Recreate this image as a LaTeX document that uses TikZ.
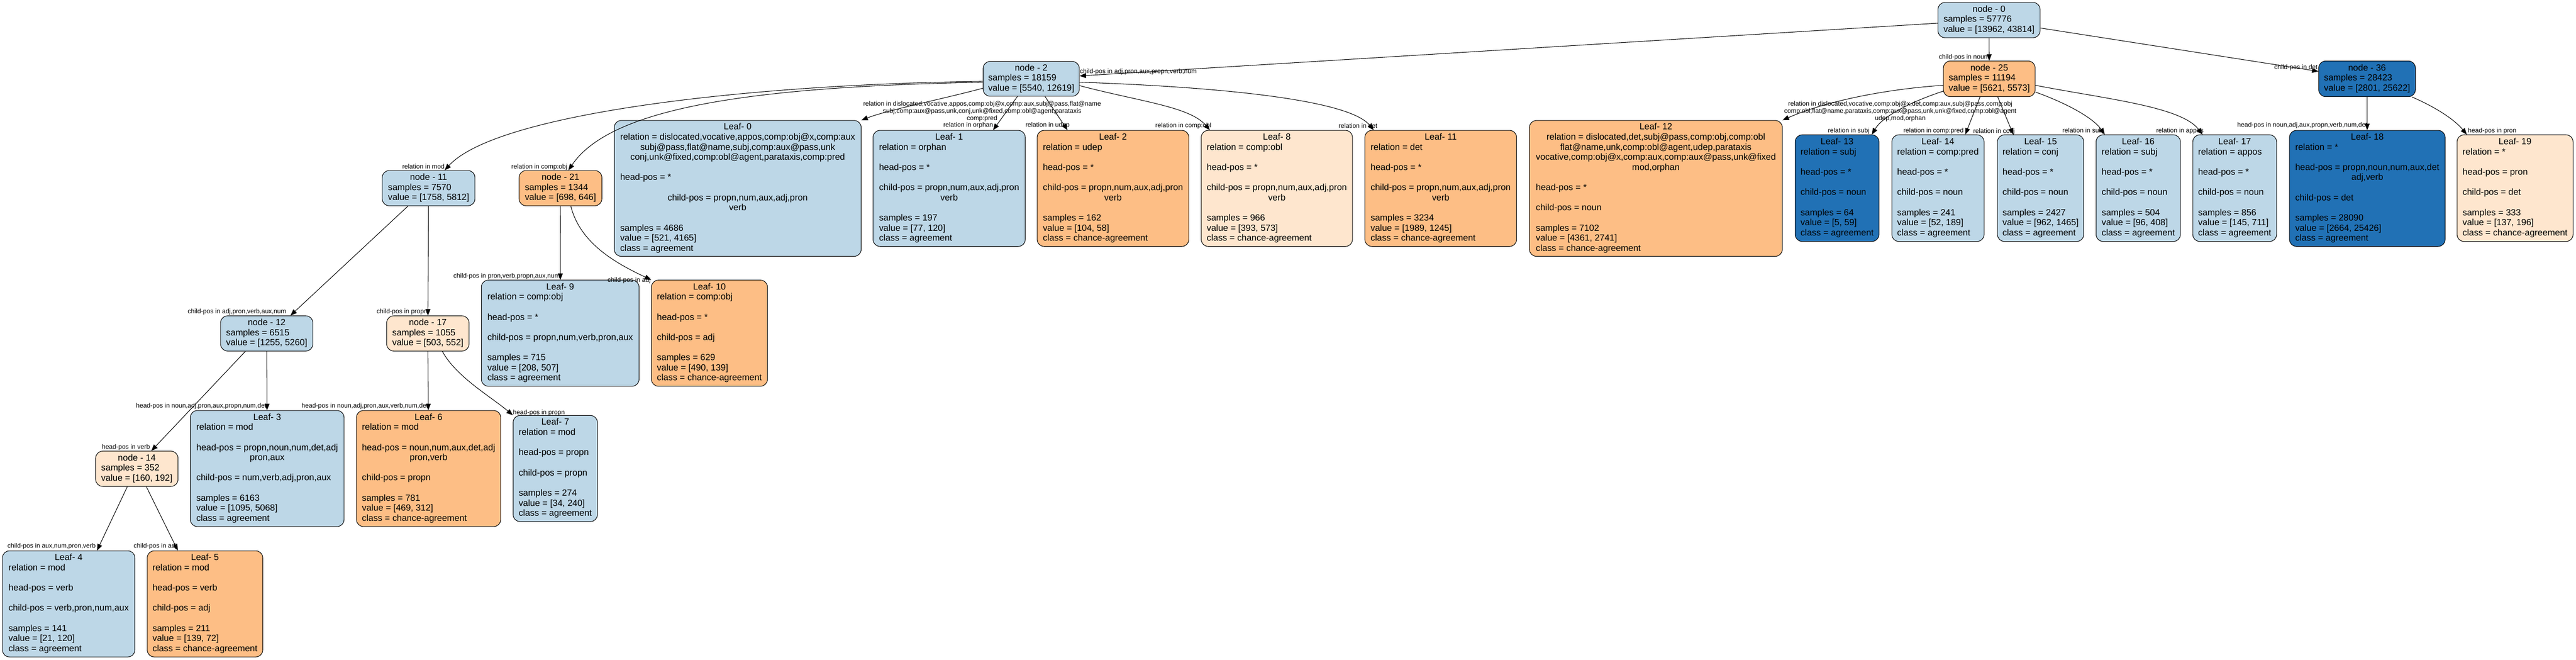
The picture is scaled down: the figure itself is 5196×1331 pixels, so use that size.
\documentclass[tikz,border=0pt]{standalone}
\usepackage{fontspec}
\setmainfont{Liberation Sans}
\usetikzlibrary{arrows.meta}
\definecolor{lblue}{HTML}{BDD7E7}
\definecolor{dblue}{HTML}{2171B5}
\definecolor{orng}{HTML}{FDBE85}
\definecolor{peach}{HTML}{FEE6CE}
\newcommand{\ndfont}{\fontsize{18}{20.4}\selectfont}
\newcommand{\elfont}{\fontsize{13}{14.5}\selectfont}
\newcommand{\ctline}[1]{\multicolumn{1}{@{}c@{}}{#1}}
\newcommand{\tbx}[1]{\begin{tabular}{@{}l@{}}#1\end{tabular}}
\begin{document}
\begin{tikzpicture}[x=1pt,y=-1pt,
  box/.style={draw=black, line width=1.1pt, rounded corners=14pt, inner sep=0pt, font=\ndfont},
  lb/.style={box, fill=lblue},
  db/.style={box, fill=dblue},
  og/.style={box, fill=orng},
  pc/.style={box, fill=peach},
  edge/.style={draw=black, line width=1.1pt, -{Triangle[length=13pt,width=10pt]}},
  elab/.style={font=\elfont, inner sep=0pt, align=center}]
\useasboundingbox[fill=white] (0,0) rectangle (5196,1331);

% ---------- internal nodes ----------
\node[lb, minimum width=206pt, minimum height=71pt] (n0) at (4012,40.5)
  {\tbx{\ctline{node - 0}\\ samples = 57776\\ value = [13962, 43814]}};
\node[lb, minimum width=194pt, minimum height=70pt] (n2) at (2080,159)
  {\tbx{\ctline{node - 2}\\ samples = 18159\\ value = [5540, 12619]}};
\node[og, minimum width=185pt, minimum height=72pt] (n25) at (4012.5,159)
  {\tbx{\ctline{node - 25}\\ samples = 11194\\ value = [5621, 5573]}};
\node[db, minimum width=195pt, minimum height=72pt] (n36) at (4774.5,159)
  {\tbx{\ctline{node - 36}\\ samples = 28423\\ value = [2801, 25622]}};
\node[lb, minimum width=187pt, minimum height=71pt] (n11) at (864.5,379.5)
  {\tbx{\ctline{node - 11}\\ samples = 7570\\ value = [1758, 5812]}};
\node[og, minimum width=167pt, minimum height=71pt] (n21) at (1130.5,379.5)
  {\tbx{\ctline{node - 21}\\ samples = 1344\\ value = [698, 646]}};
\node[lb, minimum width=186pt, minimum height=71pt] (n12) at (538,672.5)
  {\tbx{\ctline{node - 12}\\ samples = 6515\\ value = [1255, 5260]}};
\node[pc, minimum width=166pt, minimum height=71pt] (n17) at (863,672.5)
  {\tbx{\ctline{node - 17}\\ samples = 1055\\ value = [503, 552]}};
\node[pc, minimum width=166pt, minimum height=71pt] (n14) at (276,945.5)
  {\tbx{\ctline{node - 14}\\ samples = 352\\ value = [160, 192]}};

% ---------- leaves, top row ----------
\node[lb, minimum width=498pt, minimum height=274pt] (l0) at (1488,380)
  {\tbx{\ctline{Leaf- 0}\\
  \ctline{relation = dislocated,vocative,appos,comp:obj@x,comp:aux}\\
  \ctline{subj@pass,flat@name,subj,comp:aux@pass,unk}\\
  \ctline{conj,unk@fixed,comp:obl@agent,parataxis,comp:pred}\\ \\
  head-pos = *\\ \\
  \ctline{child-pos = propn,num,aux,adj,pron}\\ \ctline{verb}\\ \\
  samples = 4686\\ value = [521, 4165]\\ class = agreement}};
\node[lb, minimum width=307pt, minimum height=234pt] (l1) at (1914.5,380)
  {\tbx{\ctline{Leaf- 1}\\ relation = orphan\\ \\ head-pos = *\\ \\
  \ctline{child-pos = propn,num,aux,adj,pron}\\ \ctline{verb}\\ \\
  samples = 197\\ value = [77, 120]\\ class = agreement}};
\node[og, minimum width=306pt, minimum height=234pt] (l2) at (2245,380)
  {\tbx{\ctline{Leaf- 2}\\ relation = udep\\ \\ head-pos = *\\ \\
  \ctline{child-pos = propn,num,aux,adj,pron}\\ \ctline{verb}\\ \\
  samples = 162\\ value = [104, 58]\\ class = chance-agreement}};
\node[pc, minimum width=305pt, minimum height=234pt] (l8) at (2575.5,380)
  {\tbx{\ctline{Leaf- 8}\\ relation = comp:obl\\ \\ head-pos = *\\ \\
  \ctline{child-pos = propn,num,aux,adj,pron}\\ \ctline{verb}\\ \\
  samples = 966\\ value = [393, 573]\\ class = chance-agreement}};
\node[og, minimum width=306pt, minimum height=234pt] (l11) at (2906,380)
  {\tbx{\ctline{Leaf- 11}\\ relation = det\\ \\ head-pos = *\\ \\
  \ctline{child-pos = propn,num,aux,adj,pron}\\ \ctline{verb}\\ \\
  samples = 3234\\ value = [1989, 1245]\\ class = chance-agreement}};
\node[og, minimum width=510pt, minimum height=274pt] (l12) at (3340,380)
  {\tbx{\ctline{Leaf- 12}\\
  \ctline{relation = dislocated,det,subj@pass,comp:obj,comp:obl}\\
  \ctline{flat@name,unk,comp:obl@agent,udep,parataxis}\\
  \ctline{vocative,comp:obj@x,comp:aux,comp:aux@pass,unk@fixed}\\
  \ctline{mod,orphan}\\ \\
  head-pos = *\\ \\ child-pos = noun\\ \\
  samples = 7102\\ value = [4361, 2741]\\ class = chance-agreement}};
\node[db, minimum width=169pt, minimum height=215pt] (l13) at (3705.5,379.5)
  {\tbx{\ctline{Leaf- 13}\\ relation = subj\\ \\ head-pos = *\\ \\ child-pos = noun\\ \\
  samples = 64\\ value = [5, 59]\\ class = agreement}};
\node[lb, minimum width=186pt, minimum height=215pt] (l14) at (3909,379.5)
  {\tbx{\ctline{Leaf- 14}\\ relation = comp:pred\\ \\ head-pos = *\\ \\ child-pos = noun\\ \\
  samples = 241\\ value = [52, 189]\\ class = agreement}};
\node[lb, minimum width=174pt, minimum height=215pt] (l15) at (4116,379.5)
  {\tbx{\ctline{Leaf- 15}\\ relation = conj\\ \\ head-pos = *\\ \\ child-pos = noun\\ \\
  samples = 2427\\ value = [962, 1465]\\ class = agreement}};
\node[lb, minimum width=170pt, minimum height=215pt] (l16) at (4313,379.5)
  {\tbx{\ctline{Leaf- 16}\\ relation = subj\\ \\ head-pos = *\\ \\ child-pos = noun\\ \\
  samples = 504\\ value = [96, 408]\\ class = agreement}};
\node[lb, minimum width=169pt, minimum height=215pt] (l17) at (4507.5,379.5)
  {\tbx{\ctline{Leaf- 17}\\ relation = appos\\ \\ head-pos = *\\ \\ child-pos = noun\\ \\
  samples = 856\\ value = [145, 711]\\ class = agreement}};
\node[db, minimum width=314pt, minimum height=234pt] (l18) at (4775,380)
  {\tbx{\ctline{Leaf- 18}\\ relation = *\\ \\
  \ctline{head-pos = propn,noun,num,aux,det}\\ \ctline{adj,verb}\\ \\
  child-pos = det\\ \\
  samples = 28090\\ value = [2664, 25426]\\ class = agreement}};
\node[pc, minimum width=234pt, minimum height=215pt] (l19) at (5073,379.5)
  {\tbx{\ctline{Leaf- 19}\\ relation = *\\ \\ head-pos = pron\\ \\ child-pos = det\\ \\
  samples = 333\\ value = [137, 196]\\ class = chance-agreement}};

% ---------- lower leaves ----------
\node[lb, minimum width=318pt, minimum height=214pt] (l9) at (1130,672)
  {\tbx{\ctline{Leaf- 9}\\ relation = comp:obj\\ \\ head-pos = *\\ \\
  child-pos = propn,num,verb,pron,aux\\ \\
  samples = 715\\ value = [208, 507]\\ class = agreement}};
\node[og, minimum width=234pt, minimum height=214pt] (l10) at (1431,672)
  {\tbx{\ctline{Leaf- 10}\\ relation = comp:obj\\ \\ head-pos = *\\ \\
  child-pos = adj\\ \\
  samples = 629\\ value = [490, 139]\\ class = chance-agreement}};
\node[lb, minimum width=310pt, minimum height=234pt] (l3) at (539,945)
  {\tbx{\ctline{Leaf- 3}\\ relation = mod\\ \\
  \ctline{head-pos = propn,noun,num,det,adj}\\ \ctline{pron,aux}\\ \\
  child-pos = num,verb,adj,pron,aux\\ \\
  samples = 6163\\ value = [1095, 5068]\\ class = agreement}};
\node[og, minimum width=291pt, minimum height=234pt] (l6) at (864.5,945)
  {\tbx{\ctline{Leaf- 6}\\ relation = mod\\ \\
  \ctline{head-pos = noun,num,aux,det,adj}\\ \ctline{pron,verb}\\ \\
  child-pos = propn\\ \\
  samples = 781\\ value = [469, 312]\\ class = chance-agreement}};
\node[lb, minimum width=170pt, minimum height=214pt] (l7) at (1120,945)
  {\tbx{\ctline{Leaf- 7}\\ relation = mod\\ \\ head-pos = propn\\ \\ child-pos = propn\\ \\
  samples = 274\\ value = [34, 240]\\ class = agreement}};
\node[lb, minimum width=267pt, minimum height=214pt] (l4) at (138.5,1218)
  {\tbx{\ctline{Leaf- 4}\\ relation = mod\\ \\ head-pos = verb\\ \\ child-pos = verb,pron,num,aux\\ \\
  samples = 141\\ value = [21, 120]\\ class = agreement}};
\node[og, minimum width=233pt, minimum height=214pt] (l5) at (413.5,1218)
  {\tbx{\ctline{Leaf- 5}\\ relation = mod\\ \\ head-pos = verb\\ \\ child-pos = adj\\ \\
  samples = 211\\ value = [139, 72]\\ class = chance-agreement}};

% ---------- connectors ----------
\draw[edge] (n0) -- (n2);
\draw[edge] (n0) -- (n25);
\draw[edge] (n0) -- (n36);
\draw[edge] (n2.191) .. controls (1900,200) and (1790,222) .. (l0.north east);
\draw[edge] (n2.183) .. controls (1500,170) and (1000,230) .. (n11.48);
\draw[edge] (n2.184) .. controls (1500,175) and (1230,220) .. (n21.66);
\draw[edge] (n2.232) -- (l1.53);
\draw[edge] (n2.-52) -- (l2.128);
\draw[edge] (n2.-8) .. controls (2300,205) and (2400,215) .. (l8.139);
\draw[edge] (n2.-4) .. controls (2450,175) and (2720,200) .. (l11.139);
\draw[edge] (n11.221) -- (n12.37);
\draw[edge] (n11) -- (n17);
\draw[edge] (n21) -- (l9);
\draw[edge] (n21.-60) .. controls (1170,490) and (1240,530) .. (l10.north west);
\draw[edge] (n12.220) -- (n14.51);
\draw[edge] (n12) -- (l3);
\draw[edge] (n17) -- (l6);
\draw[edge] (n17.-51) .. controls (920,760) and (990,800) .. (l7.north west);
\draw[edge] (n14.242) -- (l4.62);
\draw[edge] (n14.-62) -- (l5.117);
\draw[edge] (n25.188) .. controls (3800,180) and (3680,205) .. (l12.north east);
\draw[edge] (n25.195) .. controls (3870,200) and (3800,230) .. (l13.57);
\draw[edge] (n25.243) -- (l14.63);
\draw[edge] (n25.-65) -- (l15.117);
\draw[edge] (n25.-16) .. controls (4160,205) and (4220,235) .. (l16.122);
\draw[edge] (n25.-8) .. controls (4250,200) and (4400,215) .. (l17.121);
\draw[edge] (n36) -- (l18);
\draw[edge] (n36.-22) .. controls (4910,215) and (4950,240) .. (l19.132);

% ---------- connector labels ----------
\node[elab] (t02) at (2296,145) {child-pos in adj,pron,aux,propn,verb,num};
\node[elab] (t025) at (3960,116) {child-pos in noun};
\node[elab] (t036) at (4631,136) {child-pos in det};
\node[elab] (t2l0) at (1981,225) {relation in dislocated,vocative,appos,comp:obj@x,comp:aux,subj@pass,flat@name\\
  subj,comp:aux@pass,unk,conj,unk@fixed,comp:obl@agent,parataxis\\ comp:pred};
\node[elab] (t211) at (854,336) {relation in mod};
\node[elab] (t221) at (1088,337) {relation in comp:obj};
\node[elab] (t2l1) at (1953,253) {relation in orphan};
\node[elab] (t2l2) at (2113,253) {relation in udep};
\node[elab] (t2l8) at (2387,254) {relation in comp:obl};
\node[elab] (t2l11) at (2739,254) {relation in det};
\node[elab] (t25l12) at (3833,225) {relation in dislocated,vocative,comp:obj@x,det,comp:aux,subj@pass,comp:obj\\
  comp:obl,flat@name,parataxis,comp:aux@pass,unk,unk@fixed,comp:obl@agent\\ udep,mod,orphan};
\node[elab] (t25l13) at (3729,264) {relation in subj};
\node[elab] (t25l14) at (3900,264) {relation in comp:pred};
\node[elab] (t25l15) at (4022,265) {relation in conj};
\node[elab] (t25l16) at (4202,264) {relation in subj};
\node[elab] (t25l17) at (4397,264) {relation in appos};
\node[elab] (t36l18) at (4644,253) {head-pos in noun,adj,aux,propn,verb,num,det};
\node[elab] (t36l19) at (5027,264) {head-pos in pron};
\node[elab] (t1112) at (478,629) {child-pos in adj,pron,verb,aux,num};
\node[elab] (t1117) at (811,629) {child-pos in propn};
\node[elab] (t21l9) at (1022,557) {child-pos in pron,verb,propn,aux,num};
\node[elab] (t21l10) at (1269,566) {child-pos in adj};
\node[elab] (t1214) at (254,902) {head-pos in verb};
\node[elab] (t12l3) at (406,819) {head-pos in noun,adj,pron,aux,propn,num,det};
\node[elab] (t17l6) at (736,819) {head-pos in noun,adj,pron,aux,verb,num,det};
\node[elab] (t17l7) at (1087,833) {head-pos in propn};
\node[elab] (t14l4) at (104,1102) {child-pos in aux,num,pron,verb};
\node[elab] (t14l5) at (313,1102) {child-pos in adj};
\end{tikzpicture}
\end{document}
